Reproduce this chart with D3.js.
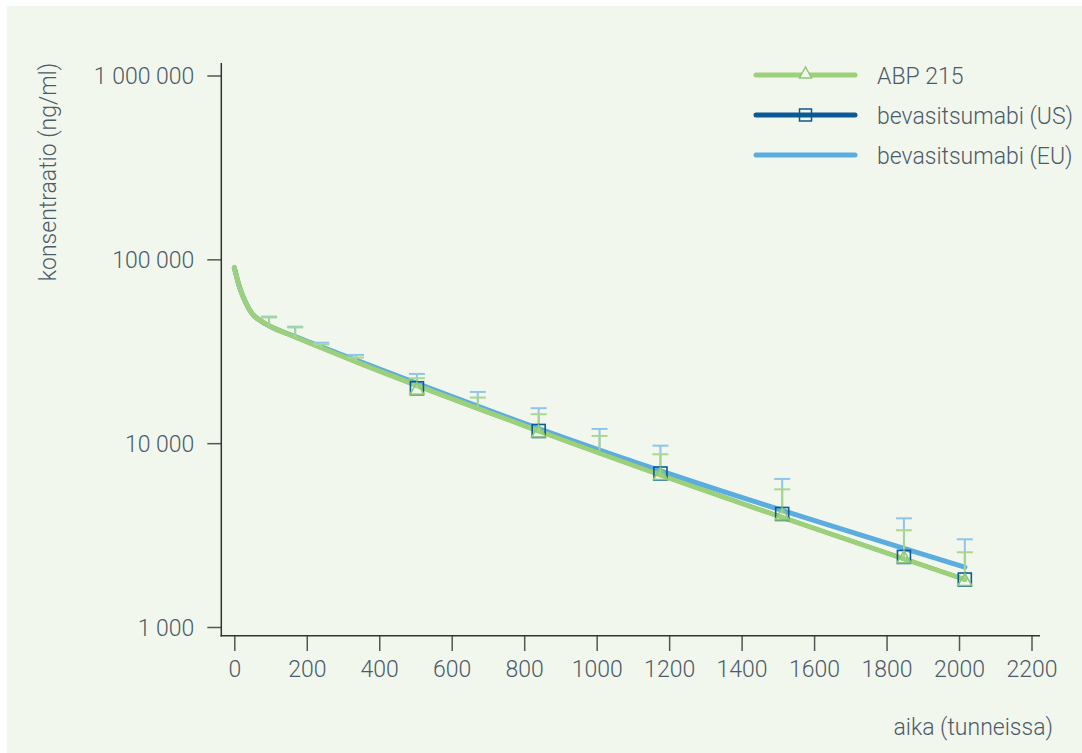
<!DOCTYPE html>
<html>
<head>
<meta charset="utf-8">
<script src="https://cdn.jsdelivr.net/npm/d3@7"></script>
<style>
  html, body { margin: 0; padding: 0; background: #ffffff; }
  svg { display: block; }
  text { font-family: Roboto, "Noto Sans", sans-serif; font-weight: 300; fill: #4c5b68; }
</style>
</head>
<body>
<div class="chartBox"></div>
<script>
// hours, concentration in ng/ml
var lineHours = [0, 15, 30, 48, 75, 96, 168, 336, 840, 2016];
var abpLine   = [90200, 70000, 59000, 51000, 46000, 43500, 37800, 27700, 11650, 1812];
var usLine    = [90200, 70000, 59000, 51000, 46000, 43500, 37800, 27700, 11650, 1812];
var euLine    = [90200, 70000, 59000, 51000, 46000, 43500, 38000, 28300, 12000, 2115];

var sampleHours = [96, 168, 240, 336, 504, 672, 840, 1008, 1176, 1512, 1848, 2016];
var abpMean  = [43500, 37800, 32800, 27700, 19900, 15800, 11650, 9100, 6840, 4120, 2405, 1812];
var abpUpper = [48300, 42600, 34500, 29200, 22550, 17700, 14370, 10950, 8700, 5610, 3360, 2550];
var euMean   = [43500, 38000, 33200, 28300, 20700, 16600, 12000, 9490, 7140, 4570, 2790, 2115];
var euUpper  = [48800, 43000, 35200, 30200, 23800, 19000, 15500, 11950, 9690, 6390, 3900, 3000];

var markerHours = [504, 840, 1176, 1512, 1848, 2016];
var usMarker    = [19900, 11650, 6840, 4120, 2405, 1812];
var abpMarker   = [19900, 11650, 6840, 4120, 2405, 1812];

var xTicks = [0, 200, 400, 600, 800, 1000, 1200, 1400, 1600, 1800, 2000, 2200];
var yTicks = [1000, 10000, 100000, 1000000];

var seriesNames = ['ABP 215', 'bevasitsumabi (US)', 'bevasitsumabi (EU)'];

var W = 1082, H = 753;
var green = '#9dd07b', darkBlue = '#0b5995', lightBlue = '#5badE0';

var svg = d3.select('div.chartBox').append('svg')
  .attr('width', W).attr('height', H);

svg.append('rect').attr('x', 7).attr('y', 6).attr('width', W - 7).attr('height', H - 6)
  .attr('fill', '#f2f7ee');

var x = d3.scaleLinear().domain([0, 2200]).range([234.3, 1031.5]);
var y = d3.scaleLog().domain([1000, 1000000]).range([627, 75.5]);

var loc = d3.formatLocale({ decimal: ',', thousands: ' ', grouping: [3], currency: ['', ''] });
var fmt = loc.format(',d');

// axes
var yAxis = svg.append('g').attr('transform', 'translate(221.3,0)')
  .call(d3.axisLeft(y).tickValues(yTicks).tickFormat(fmt).tickSize(14).tickPadding(13));
yAxis.select('.domain').remove();
yAxis.selectAll('.tick line').attr('stroke', '#555').attr('stroke-width', 1.5);
yAxis.selectAll('.tick text').attr('font-size', 23).attr('font-family', null).attr('fill', null).attr('dy', '0.35em');

var xAxis = svg.append('g').attr('transform', 'translate(0,636)')
  .call(d3.axisBottom(x).tickValues(xTicks).tickFormat(d3.format('d')).tickSize(15).tickPadding(10));
xAxis.select('.domain').remove();
xAxis.selectAll('.tick line').attr('stroke', '#555').attr('stroke-width', 1.5);
xAxis.selectAll('.tick text').attr('font-size', 23).attr('font-family', null).attr('fill', null);

svg.append('line').attr('x1', 221.3).attr('x2', 221.3).attr('y1', 63).attr('y2', 636.5)
  .attr('stroke', '#333').attr('stroke-width', 1.5);
svg.append('line').attr('x1', 220.5).attr('x2', 1040).attr('y1', 635.8).attr('y2', 635.8)
  .attr('stroke', '#333').attr('stroke-width', 1.5);

svg.append('text').attr('x', 1053).attr('y', 735).attr('text-anchor', 'end')
  .attr('font-size', 23).text('aika (tunneissa)');
svg.append('text').attr('transform', 'translate(56,172) rotate(-90)').attr('text-anchor', 'middle')
  .attr('font-size', 23).text('konsentraatio (ng/ml)');

// lines
var line = d3.line().curve(d3.curveMonotoneX)
  .x(function(d) { return x(d[0]); })
  .y(function(d) { return y(d[1]); });

function pairs(vals) { return lineHours.map(function(h, i) { return [h, vals[i]]; }); }

svg.append('path').attr('d', line(pairs(euLine))).attr('fill', 'none')
  .attr('stroke', lightBlue).attr('stroke-width', 5).attr('stroke-linecap', 'round');
svg.append('path').attr('d', line(pairs(usLine))).attr('fill', 'none')
  .attr('stroke', darkBlue).attr('stroke-width', 4).attr('stroke-linecap', 'round');
svg.append('path').attr('d', line(pairs(abpLine))).attr('fill', 'none')
  .attr('stroke', green).attr('stroke-width', 5).attr('stroke-linecap', 'round');

// error bars
var eb = svg.append('g');
sampleHours.forEach(function(h, i) {
  var cx = x(h);
  eb.append('line').attr('x1', cx).attr('x2', cx).attr('y1', y(euMean[i])).attr('y2', y(euUpper[i]))
    .attr('stroke', '#8ec6ea').attr('stroke-width', 2);
  eb.append('line').attr('x1', cx - 8).attr('x2', cx + 8).attr('y1', y(euUpper[i])).attr('y2', y(euUpper[i]))
    .attr('stroke', '#8ec6ea').attr('stroke-width', 2);
  eb.append('line').attr('x1', cx).attr('x2', cx).attr('y1', y(abpMean[i])).attr('y2', y(abpUpper[i]))
    .attr('stroke', '#a3d58f').attr('stroke-width', 2);
  eb.append('line').attr('x1', cx - 8).attr('x2', cx + 8).attr('y1', y(abpUpper[i])).attr('y2', y(abpUpper[i]))
    .attr('stroke', '#a8d890').attr('stroke-width', 2);
});

// markers
var tri = 'M-7,6L7,6L0,-6Z';
svg.selectAll('rect.us').data(markerHours).enter().append('rect')
  .attr('class', 'us')
  .attr('x', function(d, i) { return x(d) - 6.5; })
  .attr('y', function(d, i) { return y(usMarker[i]) - 6.5; })
  .attr('width', 13).attr('height', 13)
  .attr('fill', 'none').attr('stroke', darkBlue).attr('stroke-width', 1.6);
svg.selectAll('path.abp').data(markerHours).enter().append('path')
  .attr('class', 'abp')
  .attr('d', tri)
  .attr('transform', function(d, i) { return 'translate(' + x(d) + ',' + y(abpMarker[i]) + ')'; })
  .attr('fill', 'none').attr('stroke', '#8cc876').attr('stroke-width', 1.6);

// legend
var legColors = [green, darkBlue, lightBlue];
var leg = svg.append('g');
seriesNames.forEach(function(name, i) {
  var ly = 75 + i * 40;
  leg.append('line').attr('x1', 756).attr('x2', 855).attr('y1', ly).attr('y2', ly)
    .attr('stroke', legColors[i]).attr('stroke-width', 5).attr('stroke-linecap', 'round');
  leg.append('text').attr('x', 877).attr('y', ly + 8.5).attr('font-size', 23).text(name);
});
leg.append('path').attr('d', 'M-6,5L6,5L0,-6Z').attr('transform', 'translate(805.5,73)')
  .attr('fill', '#f2f7ee').attr('stroke', '#8cc876').attr('stroke-width', 1.4);
leg.append('rect').attr('x', 799.5).attr('y', 109).attr('width', 12).attr('height', 12)
  .attr('fill', 'none').attr('stroke', darkBlue).attr('stroke-width', 1.5);
</script>
</body>
</html>
